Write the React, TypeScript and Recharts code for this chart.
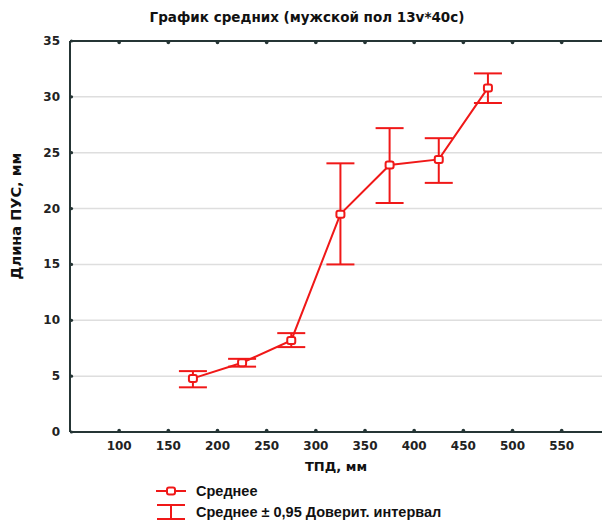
import React from 'react';
import { LineChart, Line, XAxis, YAxis, CartesianGrid, ErrorBar } from 'recharts';

const tpd = [175, 225, 275, 325, 375, 425, 475];
const means = [4.8, 6.2, 8.2, 19.5, 23.9, 24.4, 30.8];
const lowerCI = [4.0, 5.85, 7.6, 15.0, 20.5, 22.3, 29.45];
const upperCI = [5.45, 6.55, 8.85, 24.05, 27.2, 26.3, 32.1];
const xTicks = [100, 150, 200, 250, 300, 350, 400, 450, 500, 550];
const yTicks = [0, 5, 10, 15, 20, 25, 30, 35];

const data = tpd.map((x, i) => ({
  x,
  mean: means[i],
  err: [means[i] - lowerCI[i], upperCI[i] - means[i]],
}));

const RED = '#f01818';
const FRAME = '#253535';
const FONT = '"DejaVu Sans", sans-serif';
const LFONT = '"Liberation Sans", Arial, sans-serif';

const XTick = (props: any) => {
  const { x, y, payload } = props;
  const axisY = y - 8;
  return (
    <g>
      <circle cx={x} cy={axisY - 1.5} r={1.8} fill={FRAME} />
      <text x={x} y={y} dy={10} textAnchor="middle" fontFamily={FONT} fontWeight="bold" fontSize={12} fill="#222">
        {payload.value}
      </text>
    </g>
  );
};

const TopTick = (props: any) => {
  const { x, y } = props;
  const axisY = y + 2;
  return <circle cx={x} cy={axisY + 1.5} r={1.8} fill={FRAME} />;
};

const YTick = (props: any) => {
  const { x, y, payload } = props;
  const axisX = x + 10;
  return (
    <g>
      <circle cx={axisX + 1.5} cy={y} r={1.6} fill={FRAME} />
      <text x={x} y={y} dy={4} textAnchor="end" fontFamily={FONT} fontWeight="bold" fontSize={12} fill="#222">
        {payload.value}
      </text>
    </g>
  );
};

const Marker = (props: any) => {
  const { cx, cy } = props;
  if (cx == null || cy == null) return null;
  return <rect x={cx - 4} y={cy - 3.5} width={8} height={7} rx={2} fill="#fff" stroke={RED} strokeWidth={2} />;
};

const textStyle = {
  fontFamily: FONT,
  fontWeight: 'bold' as const,
  color: '#111',
  whiteSpace: 'nowrap' as const,
};

export default function App() {
  return (
    <div style={{ position: 'absolute', left: 0, top: 0, width: 605, height: 521, background: '#fff' }}>
      <div
        style={{
          ...textStyle, position: 'absolute', left: 0, width: 605, top: 9, textAlign: 'center',
          fontSize: 13.5, paddingLeft: 9, boxSizing: 'border-box',
        }}
      >
        График средних (мужской пол 13v*40c)
      </div>
      <div
        style={{
          ...textStyle, position: 'absolute', left: 16, top: 216, transform: 'translate(-50%, -50%) rotate(-90deg)',
          fontSize: 14.5,
        }}
      >
        Длина ПУС, мм
      </div>
      <div
        style={{
          ...textStyle, position: 'absolute', left: 336, top: 466, transform: 'translate(-50%, -50%)',
          fontSize: 13,
        }}
      >
        ТПД, мм
      </div>
      <LineChart width={605} height={521} data={data} margin={{ top: 35, right: 3, left: 0, bottom: 59 }}>
        <CartesianGrid vertical={false} stroke="#dedede" strokeWidth={1.5} />
        <XAxis
          dataKey="x" type="number" domain={[50, 591]} ticks={xTicks} allowDataOverflow
          height={30} tickSize={0} tickMargin={8} tickLine={false}
          axisLine={{ stroke: FRAME, strokeWidth: 2 }} tick={<XTick />} interval={0}
        />
        <XAxis
          xAxisId="top" orientation="top" dataKey="x" type="number" domain={[50, 591]} ticks={xTicks} allowDataOverflow
          height={6} tickSize={0} tickMargin={2} tickLine={false}
          axisLine={{ stroke: FRAME, strokeWidth: 2 }} tick={<TopTick />} interval={0}
        />
        <YAxis
          type="number" domain={[0, 35]} ticks={yTicks} width={70} tickSize={0} tickMargin={10} tickLine={false}
          axisLine={{ stroke: FRAME, strokeWidth: 2 }} tick={<YTick />} interval={0}
        />
        <YAxis
          yAxisId="right" orientation="right" type="number" domain={[0, 35]} width={0} tick={false} tickLine={false}
          axisLine={{ stroke: FRAME, strokeWidth: 2 }}
        />
        <Line
          xAxisId="top" yAxisId="right" dataKey="mean" stroke="none" dot={false} activeDot={false}
          legendType="none" isAnimationActive={false}
        />
        <Line
          dataKey="mean" stroke={RED} strokeWidth={2} isAnimationActive={false}
          dot={<Marker />} activeDot={false}
        >
          <ErrorBar dataKey="err" direction="y" width={14} stroke={RED} strokeWidth={2} isAnimationActive={false} />
        </Line>
      </LineChart>
      <svg style={{ position: 'absolute', left: 152, top: 482 }} width={40} height={39}>
        <line x1={4} x2={34} y1={9} y2={9} stroke={RED} strokeWidth={2} />
        <rect x={15} y={5.5} width={8} height={7} rx={2} fill="#fff" stroke={RED} strokeWidth={2} />
        <line x1={5} x2={33} y1={23} y2={23} stroke={RED} strokeWidth={2} />
        <line x1={19} x2={19} y1={23} y2={37} stroke={RED} strokeWidth={2} />
        <line x1={5} x2={33} y1={37} y2={37} stroke={RED} strokeWidth={2} />
      </svg>
      <div
        style={{
          ...textStyle, fontFamily: LFONT, position: 'absolute', left: 196, top: 481, fontSize: 14.5, lineHeight: '21px',
        }}
      >
        <div>Среднее</div>
        <div>Среднее ± 0,95 Доверит. интервал</div>
      </div>
    </div>
  );
}
